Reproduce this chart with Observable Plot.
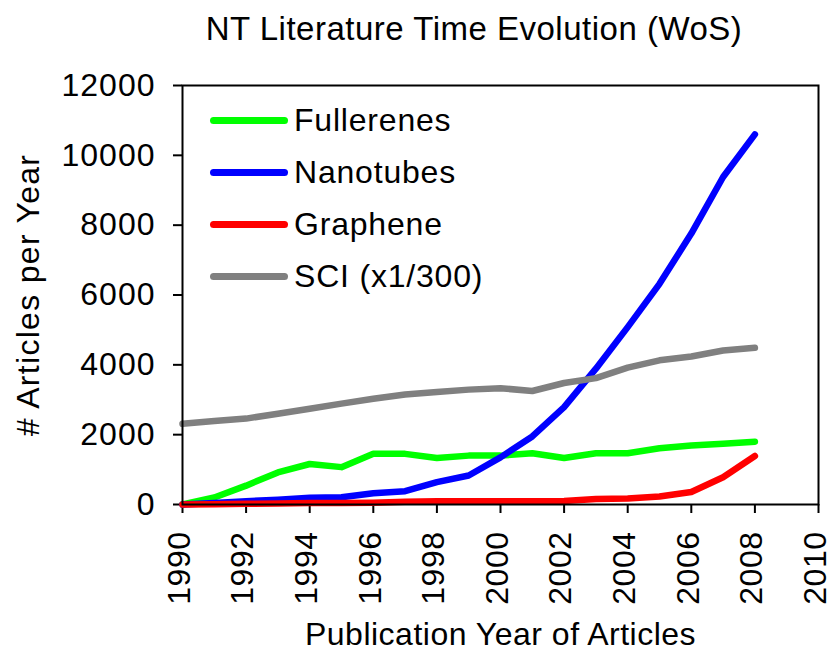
<!DOCTYPE html>
<html>
<head>
<meta charset="utf-8">
<script src="https://cdn.jsdelivr.net/npm/d3@7"></script>
<script src="https://cdn.jsdelivr.net/npm/@observablehq/plot@0.6"></script>
<style>
  html, body { margin: 0; padding: 0; background: #fff; }
  #wrap { position: relative; width: 832px; height: 653px; font-family: "Liberation Sans", Arial, sans-serif; color: #000; }
  #title { position: absolute; left: 116px; width: 716px; top: 12px; text-align: center; font-size: 33px; line-height: 33px; letter-spacing: 0.5px; }
  .leg { position: absolute; left: 210px; height: 32px; display: flex; align-items: center; font-size: 32px; line-height: 32px; letter-spacing: 0.8px; }
  .sw { display: inline-block; width: 78px; height: 7px; border-radius: 3.5px; margin-right: 6px; }
</style>
</head>
<body>
<div id="wrap">
  <div id="title">NT Literature Time Evolution (WoS)</div>
  <div id="chart"></div>
  <div id="legend"></div>
</div>
<script>
// ---- data ----
const years = [1990, 1991, 1992, 1993, 1994, 1995, 1996, 1997, 1998, 1999, 2000, 2001, 2002, 2003, 2004, 2005, 2006, 2007, 2008];
const fullerenes = [0, 200, 540, 920, 1160, 1070, 1450, 1450, 1330, 1400, 1400, 1470, 1330, 1470, 1470, 1610, 1690, 1740, 1800];
const nanotubes = [0, 40, 95, 135, 190, 210, 325, 380, 640, 830, 1350, 1950, 2790, 3890, 5080, 6320, 7760, 9380, 10600];
const graphene = [0, 10, 20, 30, 40, 40, 50, 80, 90, 90, 90, 90, 100, 160, 170, 230, 360, 780, 1390];
const sci = [2310, 2390, 2460, 2600, 2740, 2890, 3030, 3150, 3220, 3290, 3330, 3250, 3480, 3620, 3920, 4130, 4240, 4410, 4490];
const seriesNames = ["Fullerenes", "Nanotubes", "Graphene", "SCI (x1/300)"];
const seriesColors = ["#00ff00", "#0000ff", "#ff0000", "#808080"];
const xTicks = [1990, 1992, 1994, 1996, 1998, 2000, 2002, 2004, 2006, 2008, 2010];
const yTicks = [0, 2000, 4000, 6000, 8000, 10000, 12000];

// ---- build table ----
const seriesValues = [fullerenes, nanotubes, graphene, sci];
const rows = [];
seriesNames.forEach((name, i) => {
  years.forEach((yr, j) => rows.push({series: name, year: yr, value: seriesValues[i][j]}));
});

const chart = Plot.plot({
  width: 832,
  height: 653,
  marginTop: 85,
  marginBottom: 149,
  marginLeft: 182,
  marginRight: 14,
  style: {fontFamily: "'Liberation Sans', Arial, sans-serif", fontSize: "32px", letterSpacing: "0.5px", color: "#000", background: "transparent", overflow: "visible"},
  x: {domain: [1990, 2010]},
  y: {domain: [0, 12000]},
  color: {domain: seriesNames, range: seriesColors},
  marks: [
    // x tick marks only
    Plot.axisX({ticks: xTicks, tickSize: 9, strokeWidth: 2, fill: "none", tickFormat: () => "", label: null}),
    // x tick labels + axis label
    Plot.axisX({ticks: xTicks, tickSize: 0, tickPadding: 27, dx: -3, tickFormat: d => String(d), tickRotate: -90,
      label: "Publication Year of Articles", labelAnchor: "center", labelOffset: 140, labelArrow: "none"}),
    Plot.axisY({ticks: yTicks, tickFormat: d => String(d), tickSize: 9, tickPadding: 18, strokeWidth: 2,
      label: "# Articles per Year", labelAnchor: "center", labelOffset: 166, labelArrow: "none"}),
    Plot.line(rows, {x: "year", y: "value", z: "series", stroke: "series", strokeWidth: 6.5, strokeLinecap: "round", strokeLinejoin: "round"}),
    Plot.frame({stroke: "#000", strokeWidth: 2})
  ]
});
document.getElementById("chart").appendChild(chart);
d3.select(chart).selectAll('g[aria-label="y-axis tick label"]').style("letter-spacing", "1px");
d3.select(chart).selectAll('g[aria-label="y-axis label"]').style("letter-spacing", "1.3px");

// ---- legend (inside plot area, top-left) ----
const legendTops = [104, 156, 208, 260];
const legend = document.getElementById("legend");
seriesNames.forEach((name, i) => {
  const row = document.createElement("div");
  row.className = "leg";
  row.style.top = legendTops[i] + "px";
  const sw = document.createElement("span");
  sw.className = "sw";
  sw.style.background = seriesColors[i];
  const tx = document.createElement("span");
  tx.textContent = name;
  row.appendChild(sw);
  row.appendChild(tx);
  legend.appendChild(row);
});
</script>
</body>
</html>
